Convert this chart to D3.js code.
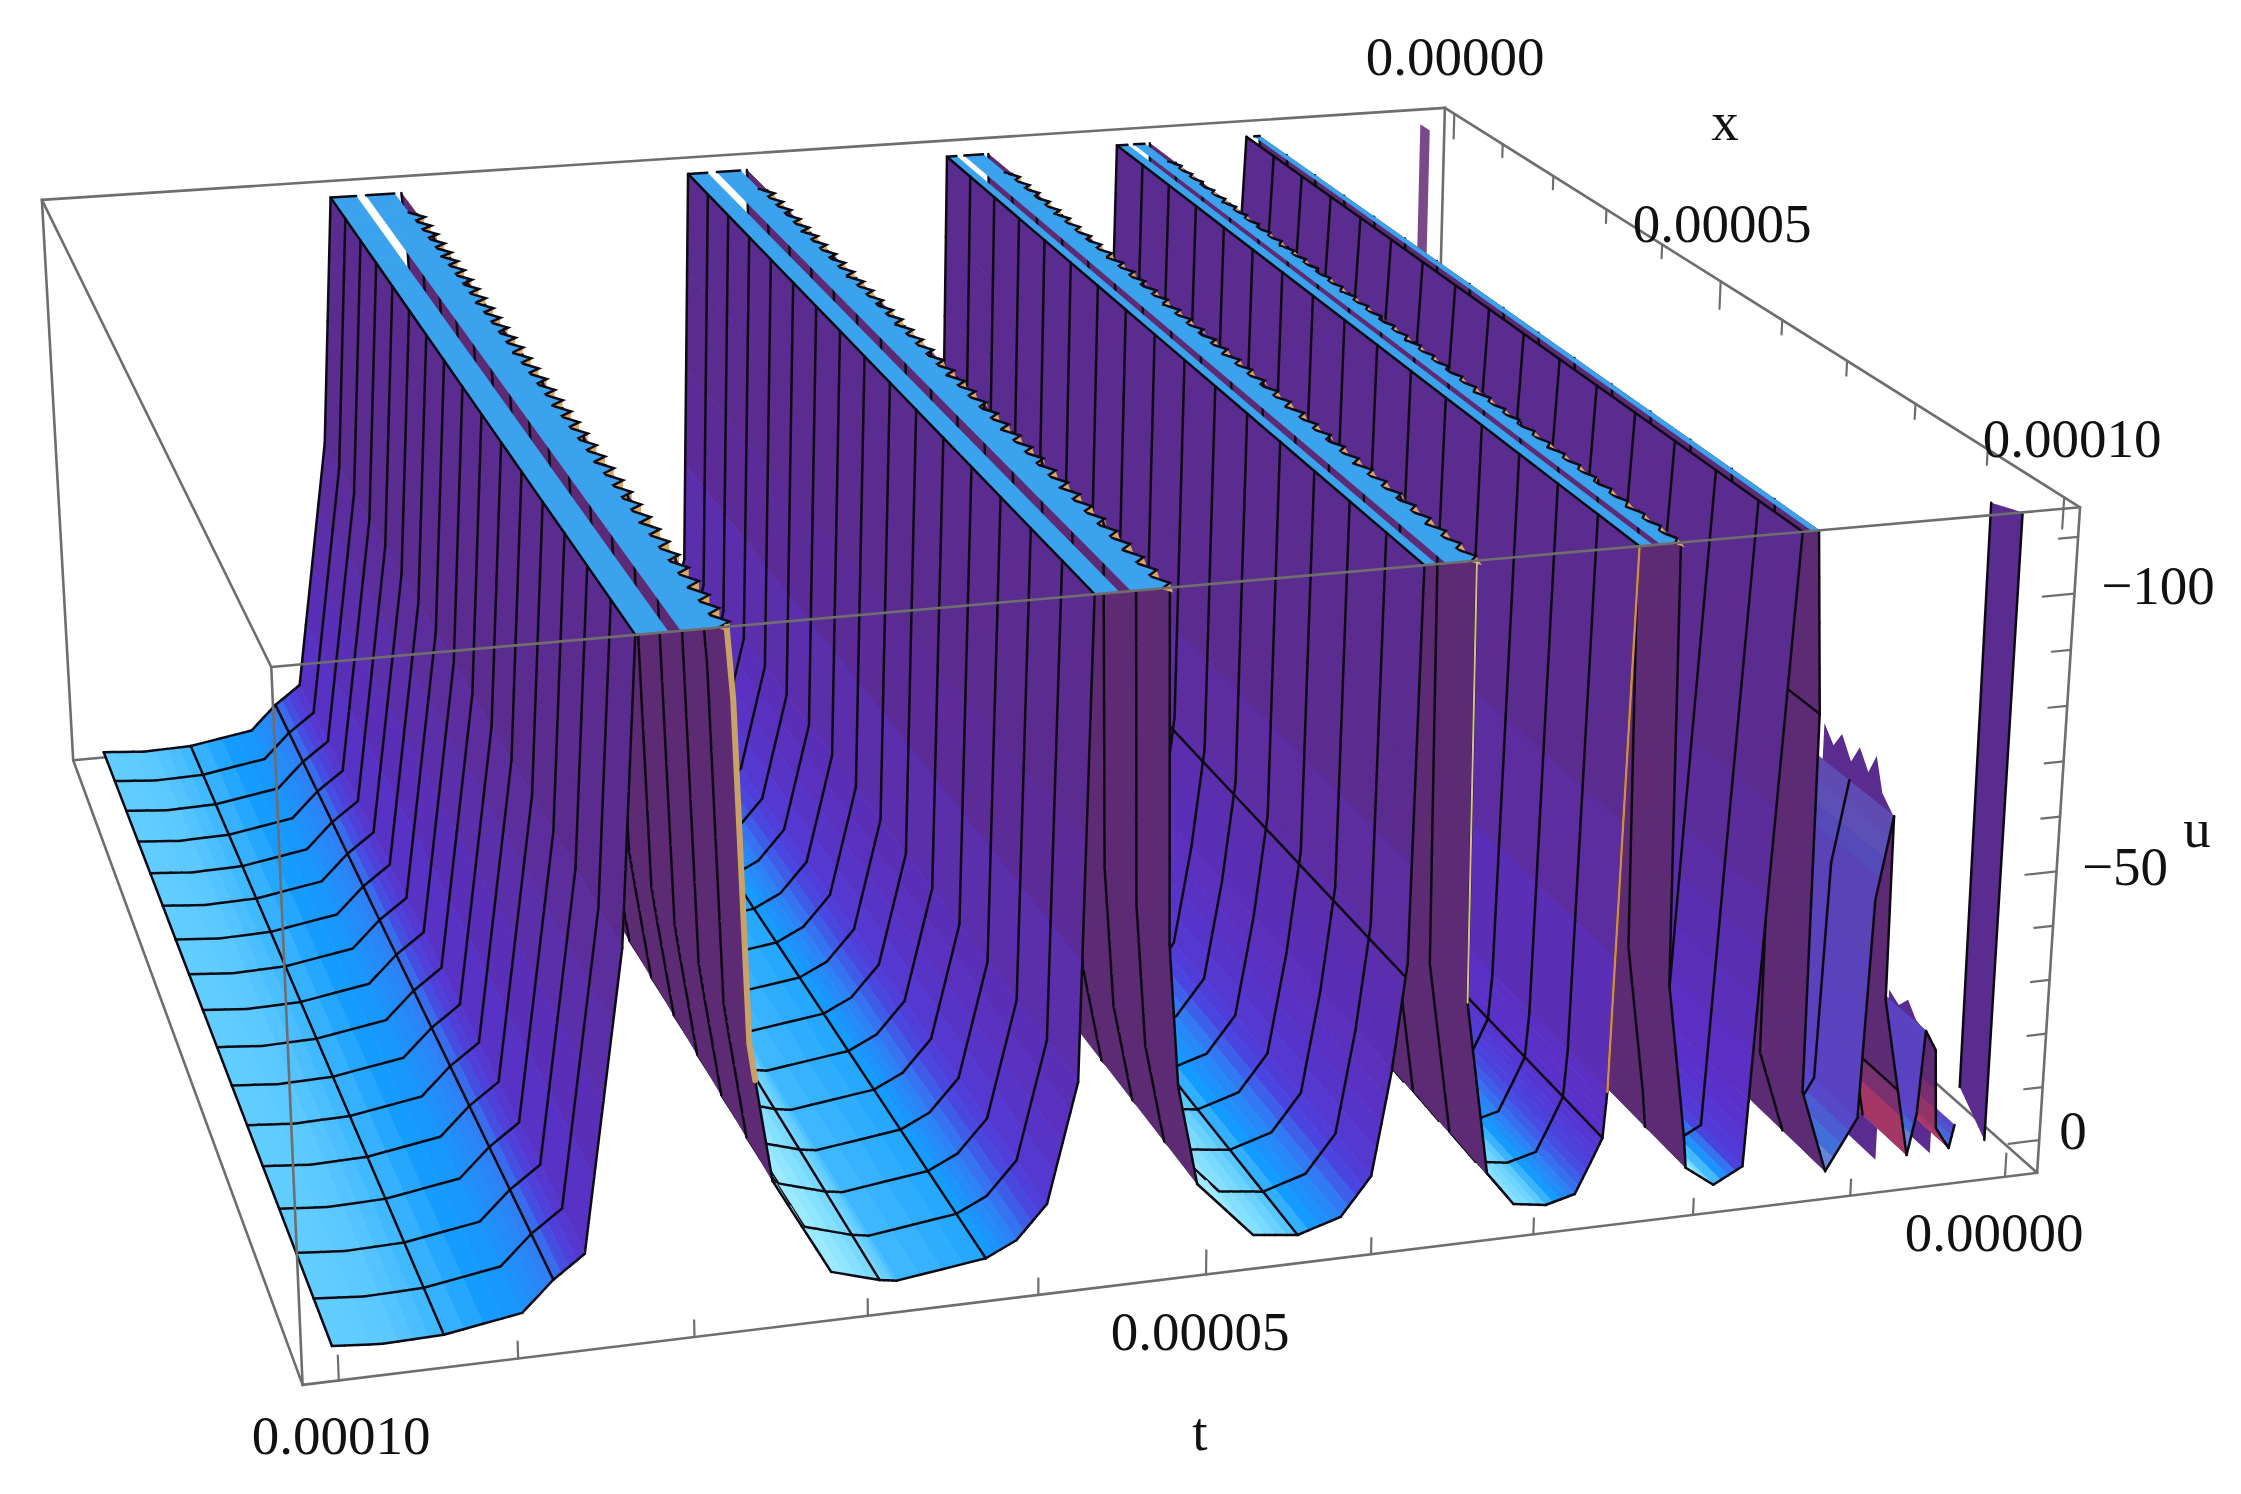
<!DOCTYPE html>
<html lang="en">
<head>
<meta charset="UTF-8">
<title>u(x,t) surface</title>
<script src="https://d3js.org/d3.v7.min.js"></script>
<style>
    body { margin: 0; background: #fff; }
    text { font-family: "Liberation Serif", serif; font-size: 55px; fill: #111; text-anchor: middle; }
</style>
</head>
<body>
<svg id="plot" width="2241" height="1494"></svg>
<script>
    // t and x are in units of 1e-5
    let profileT = [10.03, 9.75, 9.41, 8.97, 8.79, 8.61, 8.36, 8.25, 8.07, 8.00, 7.80, 7.75, 7.72, 7.66, 7.63, 7.54, 7.21, 6.93, 6.83, 6.31, 6.13, 5.95, 5.77,
        5.69, 5.55, 5.48, 5.31, 5.26, 5.24, 5.18, 5.06, 4.72, 4.45, 4.19, 4.01, 3.90, 3.82,
        3.78, 3.71, 3.65, 3.51, 3.47, 3.45, 3.30, 3.13, 2.93, 2.75, 2.66, 2.59, 2.57,
        2.50, 2.42, 2.37, 2.29, 2.25, 2.21, 2.08, 2.06, 1.88, 1.70, 1.68, 1.62,
        1.51, 1.45, 1.41, 1.35, 1.34, 1.17, 0.98, 0.94, 0.85, 0.84, 0.65, 0.60, 0.57, 0.50, 0.47, 0.38, 0.35];
    let profileU = [0, 0.7, 0.4, -1.8, -7, -10.9, -63.1, -115.2, -115.2, -115.2, -115.2, -115.2, -103, -44.3, -37.9, -19.9, -2.5, 0, 0.5, -1.6, -4.2, -10.1, -31.3,
        -115.2, -115.2, -115.2, -115.2, -115.2, -53.9, -28.4, -10.5, 0, 1, -1.4, -8.2, -26.9, -45.9,
        -115.2, -115.2, -115.2, -115.2, -115.2, -37.7, -6.2, 0.1, 1, -0.4, -5.8, -10.2, -18.6,
        -115.2, -115.2, -115.2, -115.2, -115.2, -36.9, -8.9, -2.8, 1, -1.8, -13.9, -50.4,
        -115.2, -115.2, -115.2, -82.9, -14.4, 1, -8.3, -48.3, -63.2, -29.7, -0.2, -7.7, -23.1, -19.3, -4.6, -0.6, -4.8];
    let uClip = -115.2;
    let gapSpans = [[8.00, 8.07], [7.75, 7.80], [5.48, 5.55], [5.26, 5.31], [3.65, 3.71], [3.47, 3.51], [2.37, 2.42], [2.25, 2.29], [1.45, 1.51]];
    let sawEdges = [7.80, 5.31, 3.51, 2.29];
    let sawReach = [0.085, 0.075, 0.065, 0.05];
    let clipEdges = [8.25, 5.69, 3.78, 2.50, 1.51];
    let xMesh = [0.28, 0.9, 1.52, 2.14, 2.76, 3.38, 4, 4.62, 5.24, 5.86, 6.48, 7.1, 7.72, 8.34, 8.96, 9.58, 10.2];
    let tMesh = [9.41, 8.79, 6.93, 6.31, 4.45, 3.83, 2.59, 1.35, 0.73];
    let sawX = [1.0, 1.25, 1.49, 1.75, 2.0, 2.24, 2.48, 2.74, 2.98, 3.22, 3.48, 3.72, 3.97, 4.22, 4.46, 4.72, 4.96, 5.21, 5.46, 5.7, 5.95, 6.19, 6.44, 6.69, 6.93, 7.18, 7.43, 7.67, 7.92, 8.17, 8.41, 8.65, 8.9, 9.14, 9.39, 9.64, 9.88, 10.12];

    // low ridges at small t whose top edge is jagged
    let jagSixX = [9.2, 9.34, 9.45, 9.59, 9.7, 9.83, 9.93, 10.03, 10.2];
    let jagSixU = [-69.9, -67.2, -70.4, -66.8, -70.5, -67.3, -71.3, -65.6, -63];
    let jagSevenX = [9.54, 9.68, 9.8, 9.92, 10.05, 10.2];
    let jagSevenU = [-22.9, -21.6, -24, -21.6, -21, -19.3];

    // lone strips at the two ends of the ridge nearest t = 0
    let stripFrontT = [0.24, 0.15, 0.15, 0.22];
    let stripFrontX = [9.98, 10.2, 10.2, 9.98];
    let stripFrontU = [-115.2, -115.2, -1.3, -8.8];
    let stripBackT = [0.15, 0.15, 0.15, 0.15];
    let stripBackX = [0.25, 0.45, 0.45, 0.25];
    let stripBackU = [-115.2, -115.2, -60, -60];

    // pale edge of the front cut
    let tanT = [[7.75, 7.72, 7.66, 7.63], [3.47, 3.45], [2.50, 2.57]];
    let tanU = [[-115.2, -103, -44.3, -37.9], [-115.2, -37.7], [-114.9, -18.6]];

    let tTicks = [10, 9, 8, 7, 6, 5, 4, 3, 2, 1, 0];
    let xTicks = [0, 1, 2, 3, 4, 5, 6, 7, 8, 9, 10];
    let uTicks = [0, -10, -20, -30, -40, -50, -60, -70, -80, -90, -100, -110];
    let majorT = [10, 5, 0];
    let majorU = [0, -50, -100];

    let tScale = d3.scaleLinear().domain([10.2, -0.21]).range([0, 1]);
    let xScale = d3.scaleLinear().domain([-0.2, 10.2]).range([0, 1]);
    let uScale = d3.scaleLinear().domain([6.2, -115.2]).range([0, 1]);

    // camera: projective map of the unit cube, fitted to the seven visible box corners
    let boxCorners = [[0, 0, 1, 42, 200], [1, 0, 1, 1445, 108], [1, 1, 1, 2080, 507], [0, 1, 1, 271, 667],
        [0, 1, 0, 303, 1385], [1, 1, 0, 2037, 1173], [0, 0, 0, 73, 760]];

    function solve(A, b) {
        let n = b.length;
        let m = A.map((r, i) => [...r, b[i]]);
        for (let i = 0; i < n; i++) {
            let p = i;
            for (let r = i; r < n; r++) if (Math.abs(m[r][i]) > Math.abs(m[p][i])) p = r;
            [m[i], m[p]] = [m[p], m[i]];
            for (let r = 0; r < n; r++) {
                if (r === i) continue;
                let f = m[r][i] / m[i][i];
                for (let c = i; c <= n; c++) m[r][c] -= f * m[i][c];
            }
        }
        return m.map((r, i) => r[n] / r[i]);
    }

    let eqs = [], rhs = [];
    boxCorners.forEach(([X, Y, Z, sx, sy]) => {
        sx /= 1000; sy /= 1000;
        eqs.push([X, Y, Z, 1, 0, 0, 0, 0, -sx * X, -sx * Y, -sx * Z]); rhs.push(sx);
        eqs.push([0, 0, 0, 0, X, Y, Z, 1, -sy * X, -sy * Y, -sy * Z]); rhs.push(sy);
    });
    let cam = solve(
        d3.range(11).map(i => d3.range(11).map(j => d3.sum(eqs, r => r[i] * r[j]))),
        d3.range(11).map(i => d3.sum(eqs, (r, k) => r[i] * rhs[k])));

    function project(t, x, u) {
        let X = tScale(t), Y = xScale(x), Z = uScale(u);
        let w = cam[8] * X + cam[9] * Y + cam[10] * Z + 1;
        return [1000 * (cam[0] * X + cam[1] * Y + cam[2] * Z + cam[3]) / w,
            1000 * (cam[4] * X + cam[5] * Y + cam[6] * Z + cam[7]) / w];
    }

    let svg = d3.select("#plot");
    let line = d3.line();
    let closed = d3.line().curve(d3.curveLinearClosed);
    let meshWidth = 2.5;

    function drawLine(pts, color, width) {
        svg.append("path").attr("d", line(pts)).attr("fill", "none")
            .attr("stroke", color).attr("stroke-width", width).attr("stroke-linecap", "round");
    }
    function drawPoly(pts, color, seam) {
        svg.append("path").attr("d", closed(pts)).attr("fill", color)
            .attr("stroke", seam ? color : "none").attr("stroke-width", seam || 0);
    }

    // box
    let tLo = -0.21, tHi = 10.2, xLo = -0.2, xHi = 10.2, uLo = 6.2, uHi = -115.2;
    let boxColor = "#6e6e6e";
    function edge(a, b) { drawLine([project(...a), project(...b)], boxColor, 2.6); }
    edge([tHi, xLo, uHi], [tLo, xLo, uHi]);
    edge([tHi, xLo, uHi], [tHi, xLo, uLo]);
    edge([tHi, xLo, uLo], [tLo, xLo, uLo]);
    edge([tLo, xLo, uHi], [tLo, xLo, uLo]);
    edge([tHi, xLo, uHi], [tHi, xHi, uHi]);
    edge([tHi, xLo, uLo], [tHi, xHi, uLo]);
    edge([tLo, xLo, uLo], [tLo, xHi, uLo]);

    // colours
    let slopeColor = d3.scaleLinear()
        .domain([-70, -40, -10, 0, 5, 15, 35, 55, 80])
        .range(["#b5f0ff", "#9aeaff", "#6fd4ff", "#5ac8ff", "#3fb8ff", "#149bff", "#2f80f5", "#4a45e0", "#5a30cc"])
        .clamp(true);
    let heightMix = d3.scaleLinear().domain([-8, -70]).range([0, 1]).clamp(true);
    let bandColor = "#3ba3ee", backColor = "#5d2b73", wallColor = "#5b2c90", pink = "#b93a62";
    let edgeColor = "#0d0a14";

    let uAt = d3.scaleLinear().domain(profileT).range(profileU);
    let knotAngle = profileT.map((t, i) => {
        let a = Math.max(i - 1, 0), b = Math.min(i + 1, profileT.length - 1);
        return Math.atan2((profileU[a] - profileU[b]) * 5.3, (profileT[a] - profileT[b]) * 175) * 180 / Math.PI;
    });
    let angleAt = d3.scaleLinear().domain(profileT).range(knotAngle);

    function frontColor(t) {
        let c = slopeColor(angleAt(t));
        c = d3.interpolateRgb(c, wallColor)(heightMix(uAt(t)));
        if (t < 1.3) c = d3.interpolateRgb(c, "#5a4fc0")(0.6);
        return c;
    }
    let pinkMix = d3.scaleLinear().domain([-14, -1]).range([0, 1]).clamp(true);
    function rearColor(t) {
        if (t < 1) return d3.interpolateRgb(backColor, pink)(pinkMix(uAt(t)));
        return backColor;
    }

    // sample positions along t: the knots, the mesh lines and a few between the knots
    let samples = [];
    for (let i = 0; i + 1 < profileT.length; i++) {
        let n = profileU[i] === uClip && profileU[i + 1] === uClip ? 1 : 4;
        for (let k = 0; k < n; k++) samples.push(profileT[i] + (profileT[i + 1] - profileT[i]) * k / n);
    }
    samples.push(profileT[profileT.length - 1]);
    tMesh.forEach(t => samples.push(t));
    samples = Array.from(new Set(samples)).sort(d3.ascending);

    function area(p) {
        let s = 0;
        p.forEach((q, i) => { let r = p[(i + 1) % p.length]; s += q[0] * r[1] - r[0] * q[1]; });
        return s;
    }
    let frontSign = Math.sign(area([project(8, 4, 0), project(9, 4, 0), project(9, 5, 0), project(8, 5, 0)]));

    function inGap(t) { return gapSpans.some(g => t > g[0] && t < g[1]); }
    function onBand(a, b) { return uAt(a) === uClip && uAt(b) === uClip; }
    function near(a, b) { return Math.abs(a - b) < 1e-6; }

    function drawTeeth(k, e) {
        let reach = sawReach[e], base = sawEdges[e], step = 0.245;
        sawX.forEach(x => {
            if (x < xMesh[k] || x >= xMesh[k + 1]) return;
            let tip = [base - reach, x], inner = [base, x + step * 0.37], before = [base, x - step * 0.63];
            let mid = [base - reach * 0.55, x + step * 0.68];
            let P = q => project(q[0], q[1], uClip);
            drawPoly([P(tip), P(inner), P(mid)], "#d9a862");
            drawPoly([P(before), P(tip), P(inner)], bandColor, 0.8);
            drawLine([P(before), P(tip), P(inner)], edgeColor, meshWidth);
        });
    }

    function sheet(ts, xs, us, color) {
        drawPoly(xs.map((x, i) => project(ts[i], x, us[i])), color);
    }

    // the far ends, all behind the main surface
    sheet(stripBackT, stripBackX, stripBackU, "#7a4a88");
    function jag(t, xs, us) {
        let pts = xs.map((x, i) => project(t, x, us[i]));
        pts.push(project(t, xs[xs.length - 1], 0), project(t, xs[0], 0));
        drawPoly(pts, wallColor);
    }
    jag(0.85, jagSixX, jagSixU);
    jag(0.50, jagSevenX, jagSevenU);

    // back to front: the camera sits beyond the front x and beyond the largest t
    for (let k = 0; k + 1 < xMesh.length; k++) {
        let x0 = xMesh[k], x1 = xMesh[k + 1];
        for (let i = 0; i + 1 < samples.length; i++) {
            let a = samples[i], b = samples[i + 1], mid = (a + b) / 2;
            sawEdges.forEach((s, e) => { if (near(s, b)) drawTeeth(k, e); });
            if (inGap(mid)) continue;
            let ua = uAt(a), ub = uAt(b);
            let quad = [project(a, x0, ua), project(b, x0, ub), project(b, x1, ub), project(a, x1, ua)];
            let band = onBand(a, b);
            let color = band ? bandColor : Math.sign(area(quad)) === frontSign ? frontColor(mid) : rearColor(mid);
            drawPoly(quad, color, 0.8);
            if (!band || k === 0) drawLine([quad[0], quad[1]], edgeColor, meshWidth);
            if (!band && k === xMesh.length - 2) drawLine([quad[3], quad[2]], edgeColor, meshWidth);
            if (tMesh.some(t => near(t, a)) || clipEdges.some(t => near(t, a)))
                drawLine([quad[0], quad[3]], edgeColor, meshWidth);
        }
        let left = profileT[0];
        drawLine([project(left, x0, profileU[0]), project(left, x1, profileU[0])], edgeColor, meshWidth);
    }

    tanT.forEach((ts, i) => {
        drawLine(ts.map((t, j) => project(t, 10.2, tanU[i][j])), ["#c8a266", "#d6c090", "#d08a50"][i], [6, 2, 2.5][i]);
    });

    sheet(stripFrontT, stripFrontX, stripFrontU, wallColor);
    drawLine([project(stripFrontT[0], stripFrontX[0], stripFrontU[0]), project(stripFrontT[3], stripFrontX[3], stripFrontU[3])], edgeColor, meshWidth);
    drawLine([project(stripFrontT[1], stripFrontX[1], stripFrontU[1]), project(stripFrontT[2], stripFrontX[2], stripFrontU[2])], edgeColor, meshWidth);

    // front of the box and ticks
    edge([tHi, xHi, uHi], [tLo, xHi, uHi]);
    edge([tHi, xHi, uHi], [tHi, xHi, uLo]);
    edge([tHi, xHi, uLo], [tLo, xHi, uLo]);
    edge([tLo, xHi, uHi], [tLo, xHi, uLo]);
    edge([tLo, xLo, uHi], [tLo, xHi, uHi]);

    tTicks.forEach(t => {
        let len = majorT.includes(t) ? 4.4 : 3;
        drawLine([project(t, xHi, uLo), project(t, xHi, uLo - len)], boxColor, 2.2);
    });
    xTicks.forEach(x => {
        let len = x % 5 === 0 ? 5.5 : 2.8;
        drawLine([project(tLo, x, uHi), project(tLo, x, uHi + len)], boxColor, 2.2);
    });
    uTicks.forEach(u => {
        let len = majorU.includes(u) ? 0.2 : 0.12;
        drawLine([project(tLo, xHi, u), project(tLo + len, xHi, u)], boxColor, 2.2);
    });

    // labels
    let fmt = d3.format(".5f");
    let labels = [
        [fmt(0), 1455, 75], ["x", 1725, 140], [fmt(5e-5), 1722, 242], [fmt(1e-4), 2072, 457],
        ["\u2212100", 2158, 604], ["\u221250", 2125, 885], ["0", 2073, 1149], ["u", 2197, 847],
        [fmt(0), 1994, 1251], [fmt(5e-5), 1200, 1350], ["t", 1200, 1450], [fmt(1e-4), 341, 1454]
    ];
    svg.selectAll("text").data(labels).enter().append("text")
        .attr("x", d => d[1]).attr("y", d => d[2]).text(d => d[0]);
</script>
</body>
</html>
